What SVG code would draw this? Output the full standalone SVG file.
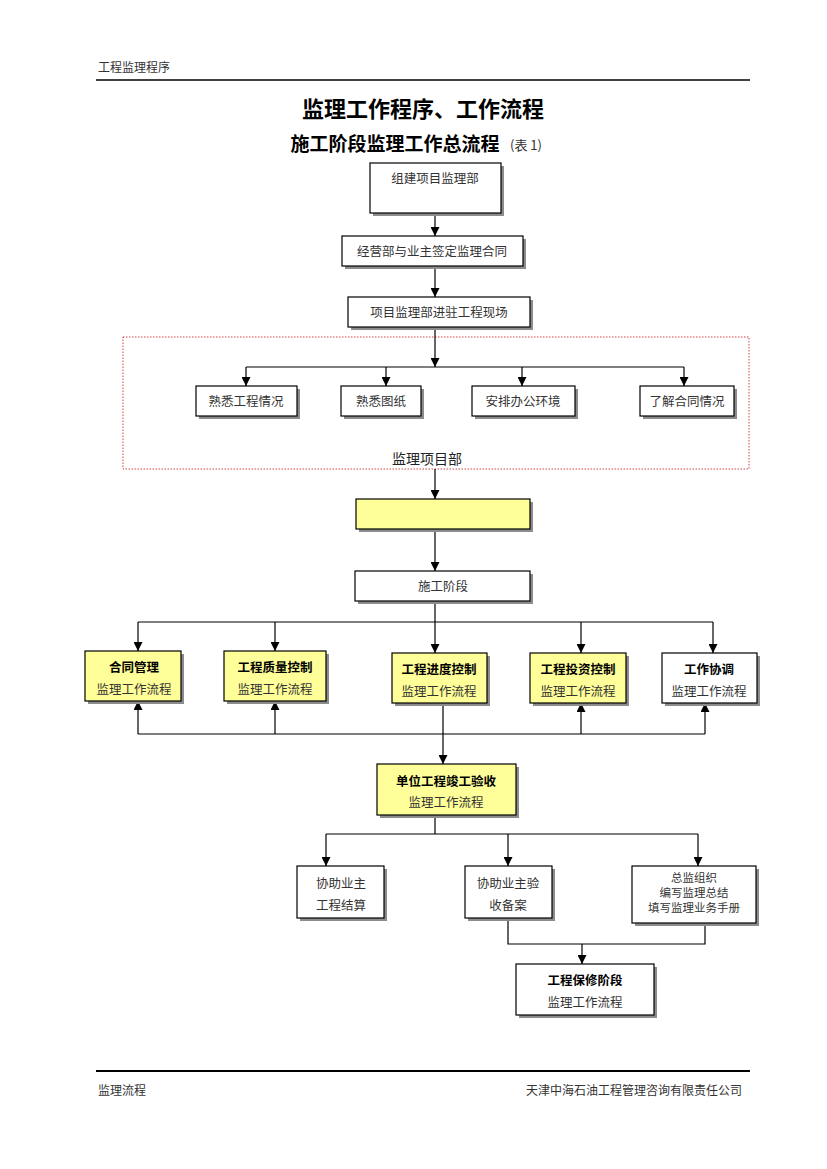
<svg xmlns="http://www.w3.org/2000/svg" width="827" height="1169" viewBox="0 0 827 1169">
<defs>
<marker id="ah" markerWidth="9" markerHeight="9" refX="9" refY="4.5" orient="auto" markerUnits="userSpaceOnUse" viewBox="0 0 9 9">
<path d="M0,0 L9,4.5 L0,9 Z" fill="#000"/>
</marker>
<style>
text{font-family:"Noto Sans CJK SC","Noto Sans CJK JP",sans-serif;}
.t{font-size:12.5px;fill:#333;text-anchor:middle;}
.s{font-size:11.5px;fill:#333;text-anchor:middle;}
.b{font-size:12.5px;fill:#000;font-weight:bold;text-anchor:middle;}
.box{fill:#fff;stroke:#000;stroke-width:1.2;}
.ybox{fill:#ffff99;stroke:#000;stroke-width:1.2;}
.sh{fill:#8c8c8c;}
.ln{fill:none;stroke:#000;stroke-width:1.2;}
.hdr{font-size:12px;fill:#333;}
</style>
</defs>
<rect width="827" height="1169" fill="#fff"/>
<g id="header">
<text x="98" y="72" class="hdr">工程监理程序</text>
<line x1="96" y1="80" x2="750" y2="80" stroke="#000" stroke-width="1.5"/>
<text x="423" y="117" text-anchor="middle" style="font-size:22px;font-weight:bold;fill:#000">监理工作程序、工作流程</text>
<text x="395" y="151" text-anchor="middle" style="font-size:19px;font-weight:bold;fill:#000">施工阶段监理工作总流程</text>
<text x="510" y="150" style="font-size:13px;fill:#333">(表 1)</text>
</g>
<g id="group-box">
<rect x="123" y="337" width="626" height="132" fill="none" stroke="#d04040" stroke-width="1" stroke-dasharray="1.5,1.5"/>
<text x="427" y="464" text-anchor="middle" style="font-size:14px;fill:#222">监理项目部</text>
</g>
<g id="connectors">
<line class="ln" x1="435" y1="213" x2="435" y2="236" marker-end="url(#ah)"/>
<line class="ln" x1="435" y1="266" x2="435" y2="297" marker-end="url(#ah)"/>
<line class="ln" x1="435" y1="327" x2="435" y2="367" marker-end="url(#ah)"/>
<line class="ln" x1="246" y1="367" x2="684" y2="367"/>
<line class="ln" x1="246" y1="367" x2="246" y2="386" marker-end="url(#ah)"/>
<line class="ln" x1="386" y1="367" x2="386" y2="386" marker-end="url(#ah)"/>
<line class="ln" x1="522" y1="367" x2="522" y2="386" marker-end="url(#ah)"/>
<line class="ln" x1="684" y1="367" x2="684" y2="386" marker-end="url(#ah)"/>
<line class="ln" x1="435" y1="469" x2="435" y2="499" marker-end="url(#ah)"/>
<line class="ln" x1="435" y1="529" x2="435" y2="571" marker-end="url(#ah)"/>
<line class="ln" x1="435" y1="601" x2="435" y2="622"/>
<line class="ln" x1="138" y1="622" x2="713" y2="622"/>
<line class="ln" x1="138" y1="622" x2="138" y2="651" marker-end="url(#ah)"/>
<line class="ln" x1="275" y1="622" x2="275" y2="651" marker-end="url(#ah)"/>
<line class="ln" x1="435" y1="622" x2="435" y2="653" marker-end="url(#ah)"/>
<line class="ln" x1="581" y1="622" x2="581" y2="653" marker-end="url(#ah)"/>
<line class="ln" x1="713" y1="622" x2="713" y2="653" marker-end="url(#ah)"/>
<line class="ln" x1="138" y1="734" x2="705" y2="734"/>
<line class="ln" x1="138" y1="734" x2="138" y2="701" marker-end="url(#ah)"/>
<line class="ln" x1="275" y1="734" x2="275" y2="701" marker-end="url(#ah)"/>
<line class="ln" x1="581" y1="734" x2="581" y2="703" marker-end="url(#ah)"/>
<line class="ln" x1="705" y1="734" x2="705" y2="703" marker-end="url(#ah)"/>
<line class="ln" x1="443" y1="703" x2="443" y2="764" marker-end="url(#ah)"/>
<line class="ln" x1="435" y1="815" x2="435" y2="834"/>
<line class="ln" x1="326" y1="834" x2="698" y2="834"/>
<line class="ln" x1="326" y1="834" x2="326" y2="866" marker-end="url(#ah)"/>
<line class="ln" x1="508" y1="834" x2="508" y2="866" marker-end="url(#ah)"/>
<line class="ln" x1="698" y1="834" x2="698" y2="866" marker-end="url(#ah)"/>
<polyline class="ln" points="508,918 508,944 705,944 705,923"/>
<line class="ln" x1="582" y1="944" x2="582" y2="964" marker-end="url(#ah)"/>
</g>
<g id="n1"><rect class="sh" x="373" y="166" width="131" height="50"/><rect class="box" x="370" y="163" width="131" height="50"/><text class="t" x="435" y="183">组建项目监理部</text></g>
<g id="n2"><rect class="sh" x="345" y="239" width="181" height="30"/><rect class="box" x="342" y="236" width="181" height="30"/><text class="t" x="432" y="256">经营部与业主签定监理合同</text></g>
<g id="n3"><rect class="sh" x="351" y="300" width="182" height="30"/><rect class="box" x="348" y="297" width="182" height="30"/><text class="t" x="439" y="317">项目监理部进驻工程现场</text></g>
<g id="n4"><rect class="sh" x="199" y="389" width="101" height="30"/><rect class="box" x="196" y="386" width="101" height="30"/><text class="t" x="246" y="406">熟悉工程情况</text></g>
<g id="n5"><rect class="sh" x="344" y="389" width="80" height="30"/><rect class="box" x="341" y="386" width="80" height="30"/><text class="t" x="381" y="406">熟悉图纸</text></g>
<g id="n6"><rect class="sh" x="475" y="389" width="103" height="30"/><rect class="box" x="472" y="386" width="103" height="30"/><text class="t" x="523" y="406">安排办公环境</text></g>
<g id="n7"><rect class="sh" x="643" y="389" width="94" height="30"/><rect class="box" x="640" y="386" width="94" height="30"/><text class="t" x="687" y="406">了解合同情况</text></g>
<g id="n8"><rect class="sh" x="359" y="502" width="174" height="30"/><rect class="ybox" x="356" y="499" width="174" height="30"/></g>
<g id="n9"><rect class="sh" x="358" y="574" width="175" height="30"/><rect class="box" x="355" y="571" width="175" height="30"/><text class="t" x="443" y="591">施工阶段</text></g>
<g id="n10"><rect class="sh" x="88" y="654" width="96" height="50"/><rect class="ybox" x="85" y="651" width="96" height="50"/><text class="b" x="134" y="672">合同管理</text><text class="t" x="134" y="694">监理工作流程</text></g>
<g id="n11"><rect class="sh" x="227" y="654" width="102" height="50"/><rect class="ybox" x="224" y="651" width="102" height="50"/><text class="b" x="275" y="672">工程质量控制</text><text class="t" x="275" y="694">监理工作流程</text></g>
<g id="n12"><rect class="sh" x="395" y="656" width="95" height="50"/><rect class="ybox" x="392" y="653" width="95" height="50"/><text class="b" x="439" y="674">工程进度控制</text><text class="t" x="439" y="696">监理工作流程</text></g>
<g id="n13"><rect class="sh" x="533" y="656" width="96" height="50"/><rect class="ybox" x="530" y="653" width="96" height="50"/><text class="b" x="578" y="674">工程投资控制</text><text class="t" x="578" y="696">监理工作流程</text></g>
<g id="n14"><rect class="sh" x="665" y="656" width="95" height="50"/><rect class="box" x="662" y="653" width="95" height="50"/><text class="b" x="709" y="674">工作协调</text><text class="t" x="709" y="696">监理工作流程</text></g>
<g id="n15"><rect class="sh" x="380" y="767" width="139" height="51"/><rect class="ybox" x="377" y="764" width="139" height="51"/><text class="b" x="446" y="786">单位工程竣工验收</text><text class="t" x="446" y="807">监理工作流程</text></g>
<g id="n16"><rect class="sh" x="300" y="869" width="87" height="52"/><rect class="box" x="297" y="866" width="87" height="52"/><text class="t" x="341" y="888">协助业主</text><text class="t" x="341" y="910">工程结算</text></g>
<g id="n17"><rect class="sh" x="468" y="869" width="87" height="52"/><rect class="box" x="465" y="866" width="87" height="52"/><text class="t" x="508" y="888">协助业主验</text><text class="t" x="508" y="910">收备案</text></g>
<g id="n18"><rect class="sh" x="635" y="869" width="124" height="57"/><rect class="box" x="632" y="866" width="124" height="57"/><text class="s" x="694" y="882">总监组织</text><text class="s" x="694" y="897">编写监理总结</text><text class="s" x="694" y="912">填写监理业务手册</text></g>
<g id="n19"><rect class="sh" x="519" y="967" width="138" height="51"/><rect class="box" x="516" y="964" width="138" height="51"/><text class="b" x="585" y="985">工程保修阶段</text><text class="t" x="585" y="1007">监理工作流程</text></g>
<g id="footer">
<line x1="96" y1="1071" x2="750" y2="1071" stroke="#000" stroke-width="2"/>
<text x="98" y="1095" class="hdr">监理流程</text>
<text x="742" y="1095" class="hdr" text-anchor="end">天津中海石油工程管理咨询有限责任公司</text>
</g>
</svg>
